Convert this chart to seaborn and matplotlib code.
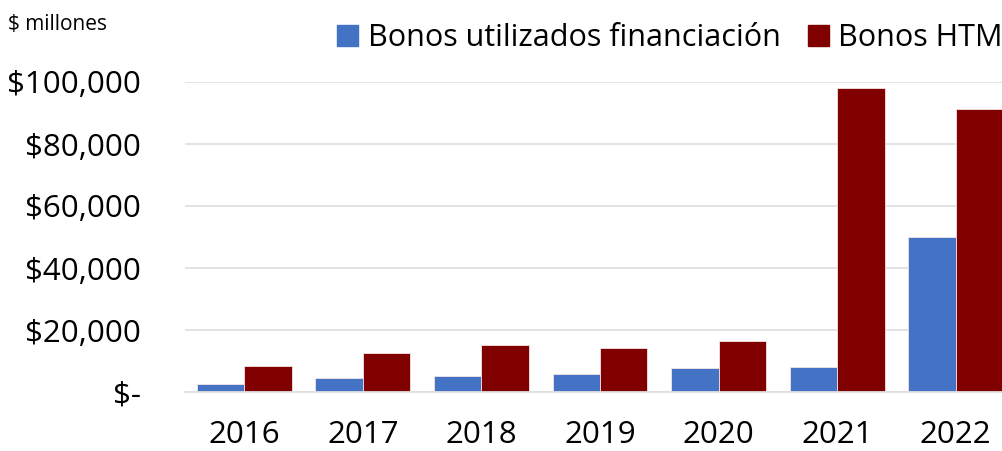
import pandas as pd
import seaborn as sns
import matplotlib.pyplot as plt
from matplotlib.ticker import FuncFormatter

years = ["2016", "2017", "2018", "2019", "2020", "2021", "2022"]
bonos_financiacion = [2500, 4400, 5300, 5800, 7600, 8100, 50100]
bonos_htm = [8400, 12500, 15200, 14100, 16500, 98100, 91300]
series_names = ["Bonos utilizados financiación", "Bonos HTM"]
colors = ["#4472C4", "#800000"]

df = pd.DataFrame({
    "year": years * 2,
    "value": bonos_financiacion + bonos_htm,
    "serie": [series_names[0]] * len(years) + [series_names[1]] * len(years),
})

sns.set_style("white")
plt.rcParams["font.family"] = ["Open Sans", "DejaVu Sans"]
plt.rcParams["text.color"] = "black"

fig = plt.figure(figsize=(10.03, 4.51), dpi=100)
# axes run a bit past the right edge, as in the cropped original
ax = fig.add_axes([185 / 1003, 59 / 451, 830 / 1003, 310 / 451])

sns.barplot(data=df, x="year", y="value", hue="serie", palette=colors, saturation=1,
            width=0.8, edgecolor="#f4e4e4", linewidth=0.6, ax=ax, legend=False)

ax.set_ylim(0, 100000)
ax.set_xlim(-0.5, 6.5)
ax.set_yticks(range(0, 100001, 20000))
ax.yaxis.set_major_formatter(FuncFormatter(lambda v, p: "$-" if v == 0 else f"${v:,.0f}"))
ax.grid(axis="y", color="#E0E0E0", linewidth=1.3)
ax.set_axisbelow(True)
for s in ["left", "right", "top"]:
    ax.spines[s].set_visible(False)
ax.spines["bottom"].set_color("#E0E0E0")
ax.spines["bottom"].set_linewidth(1.3)
ax.tick_params(axis="y", length=0, pad=32, labelsize=22.5, labelcolor="black")
ax.tick_params(axis="x", length=0, pad=20, labelsize=22.5, labelcolor="black")
ax.set_xlabel("")
ax.set_ylabel("")

fig.text(8 / 1003, 1 - 24 / 451, "$ millones", fontsize=15, va="center", ha="left")

handles = [plt.Rectangle((0, 0), 1, 1, color=c) for c in colors]
fig.legend(handles, series_names, loc="center right", bbox_to_anchor=(1.0, 1 - 38 / 451),
           ncol=2, frameon=False, fontsize=22, handlelength=0.7, handleheight=0.7,
           handletextpad=0.3, columnspacing=0.9, borderaxespad=0, borderpad=0)

fig.savefig("out.png", dpi=100)
